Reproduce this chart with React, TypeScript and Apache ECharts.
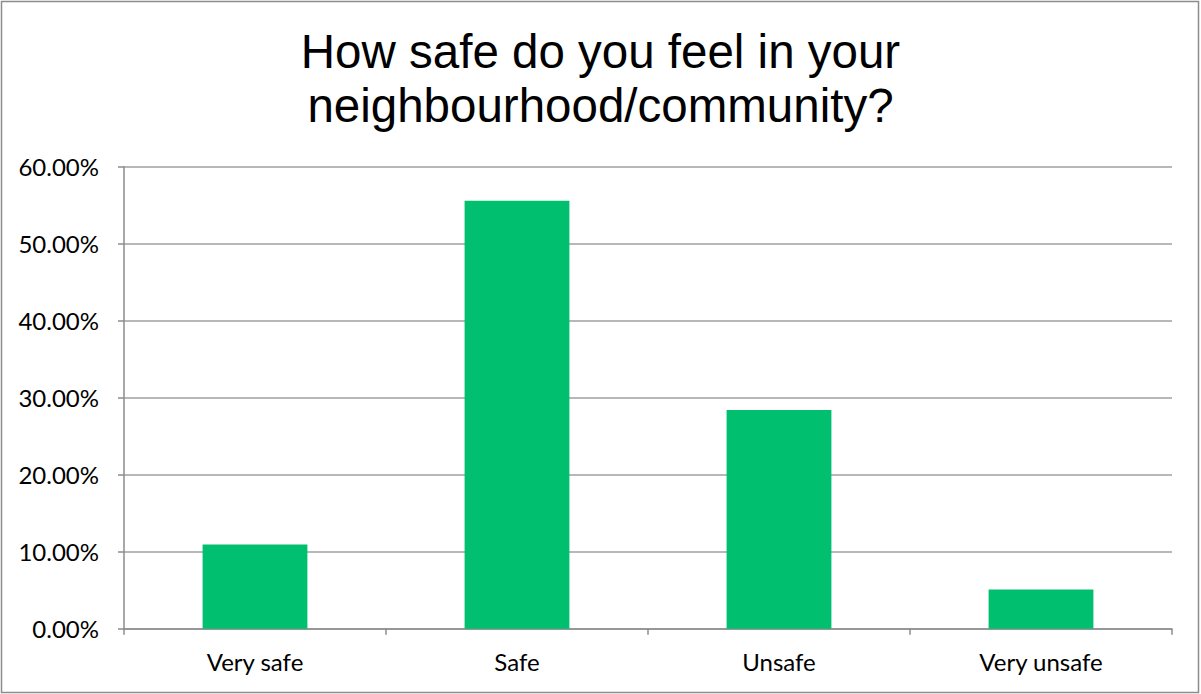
import React, { useEffect, useRef } from "react";
import * as echarts from "echarts";

const TITLE = "How safe do you feel in your\nneighbourhood/community?";
const categories = ["Very safe", "Safe", "Unsafe", "Very unsafe"];
const values = [10.95, 55.58, 28.4, 5.1];
const yMin = 0;
const yMax = 60;
const yInterval = 10;

export default function App() {
  const ref = useRef<HTMLDivElement>(null);
  useEffect(() => {
    document.body.style.margin = "0";
    const chart = echarts.init(ref.current!, null, { renderer: "svg" });
    chart.setOption({
      animation: false,
      backgroundColor: "#ffffff",
      title: {
        text: TITLE,
        left: "center",
        top: 19,
        textStyle: {
          fontFamily: "Liberation Sans, Arial, sans-serif",
          fontSize: 47.5,
          fontWeight: "normal",
          lineHeight: 54,
          color: "#000000",
          align: "center",
        },
      },
      graphic: [
        {
          type: "rect",
          shape: { x: 1.5, y: 1.5, width: 1197, height: 691 },
          style: { fill: "none", stroke: "#8c8c8c", lineWidth: 1.5 },
          silent: true,
          z: -1,
        },
      ],
      grid: { left: 124, right: 29, top: 166.7, bottom: 65.3, containLabel: false },
      xAxis: {
        type: "category",
        data: categories,
        axisLine: { lineStyle: { color: "#8c8c8c", width: 1.5 } },
        axisTick: { show: true, length: 6, lineStyle: { color: "#8c8c8c", width: 1.5 } },
        axisLabel: {
          fontFamily: "Lato, Carlito, sans-serif",
          fontSize: 24,
          color: "#000000",
          margin: 21,
        },
      },
      yAxis: {
        type: "value",
        min: yMin,
        max: yMax,
        interval: yInterval,
        axisLine: { show: true, lineStyle: { color: "#8c8c8c", width: 1.5 } },
        axisTick: { show: true, length: 6, lineStyle: { color: "#8c8c8c", width: 1.5 } },
        splitLine: { show: true, lineStyle: { color: "#a0a0a0", width: 1.5 } },
        axisLabel: {
          fontFamily: "Lato, Carlito, sans-serif",
          fontSize: 24,
          color: "#000000",
          margin: 25,
          formatter: (v: number) => v.toFixed(2) + "%",
        },
      },
      series: [
        {
          type: "bar",
          data: values,
          barWidth: "40%",
          itemStyle: { color: "#00bf6f" },
        },
      ],
    });
    return () => chart.dispose();
  }, []);
  return <div ref={ref} style={{ width: 1201, height: 694 }} />;
}
